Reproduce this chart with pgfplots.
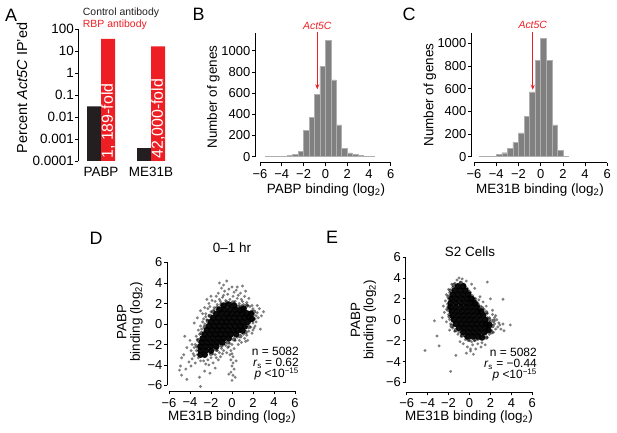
\documentclass[border=0pt]{standalone}
\usepackage{pgfplots}
\pgfplotsset{compat=1.18}
\usepackage{fontspec}
\setmainfont{Liberation Sans}
\usetikzlibrary{arrows.meta}
\definecolor{rbpred}{RGB}{237,30,36}
\definecolor{ctrlblack}{RGB}{35,31,32}
\definecolor{histgray}{RGB}{128,128,128}
\definecolor{histedge}{RGB}{175,175,175}
\newcommand{\fs}[1]{\fontsize{#1}{#1}\selectfont}
\pgfdeclareplotmark{dot}{\pgfpathcircle{\pgfpointorigin}{\pgfplotmarksize}\pgfusepathqfill}
\tikzset{axln/.style={black, line width=0.8bp}}
\pgfplotsset{
  panel/.style={
    scale only axis,
    axis line style={draw=none},
    tick align=outside,
    tick pos=left,
    major tick length=3bp,
    tick style={black, line width=0.7bp},
    ticklabel style={font=\fs{13}},
    yticklabel style={inner xsep=1.5bp},
    clip=false,
  },
  core/.style={only marks, mark=dot, color=black, mark size=3.3bp, mark options={fill=black, fill opacity=0.95}},
  mid/.style={only marks, mark=dot, color=black, mark size=2.2bp, mark options={fill=black, fill opacity=0.6}},
  fringe/.style={only marks, mark=dot, color=black, mark size=1.6bp, mark options={fill=black, fill opacity=0.5}},
}
\begin{document}
\begin{tikzpicture}[x=1bp,y=1bp]
\useasboundingbox (0,0) rectangle (617,433);

% ---------------- Panel A ----------------
\begin{axis}[panel,
  at={(78bp,272bp)}, anchor=south west,
  width=96bp, height=132bp,
  xmin=-0.46, xmax=1.46,
  ymode=log, ymin=1e-4, ymax=100, log origin=infty,
  ytick={1e-4,1e-3,1e-2,1e-1,1,10,100},
  yticklabels={0.0001,0.001,0.01,0.1,1,10,100},
  yminorticks=false,
  ticklabel style={font=\fs{13.5}},
  yticklabel style={inner xsep=1bp},
  xtick={0,1}, xticklabels={PABP,ME31B},
  major x tick style={draw=none},
  ybar=0pt, bar width=14bp,
]
\addplot[fill=ctrlblack, draw=none] coordinates {(0,0.03) (1,0.00038)};
\addplot[fill=rbpred, draw=none] coordinates {(0,35.7) (1,16)};
\draw[axln] (rel axis cs:0,0) -- (rel axis cs:0,1);
\node[rotate=90, anchor=west, text=white, font=\fs{16}, inner sep=0pt] at (axis cs:0.14,1.25e-4) {1, 189-fold};
\node[rotate=90, anchor=west, text=white, font=\fs{16}, inner sep=0pt] at (axis cs:1.14,1.25e-4) {42,000-fold};
\end{axis}

% ---------------- Panel B ----------------
\begin{axis}[panel,
  at={(255bp,270.3bp)}, anchor=south west,
  width=135.7bp, height=129.4bp,
  xmin=-6.46, xmax=6, ymin=-56.6, ymax=1164,
  xtick={-6,-4,...,6}, xticklabels={−6,−4,−2,0,2,4,6},
  ytick={0,200,...,1000}, yticklabels={0,200,400,600,800,1000},
]
\addplot[ybar interval, fill=histgray, draw=histedge, line width=0.4bp] coordinates {
(-5.5,3) (-5.0,3) (-4.5,4) (-4.0,5) (-3.5,12) (-3.0,25) (-2.5,50) (-2.0,250)
(-1.5,370) (-1.0,590) (-0.5,850) (0.0,1100) (0.5,725) (1.0,300) (1.5,80)
(2.0,35) (2.5,20) (3.0,10) (3.5,5) (4.0,3) (4.5,3)};
\draw[axln] (axis cs:-6,-56.6) -- (axis cs:6,-56.6);
\draw[axln] (axis cs:-6.46,0) -- (axis cs:-6.46,1164);
\draw[-{Stealth[length=5bp,width=4bp]}, rbpred, line width=0.8bp] (axis cs:-0.74,1180) -- (axis cs:-0.74,636);
\node[text=rbpred, font=\fs{10.5}\itshape] at (axis cs:-0.74,1233) {Act5C};
\end{axis}

% ---------------- Panel C ----------------
\begin{axis}[panel,
  at={(471bp,270.3bp)}, anchor=south west,
  width=136.3bp, height=129.4bp,
  xmin=-6.27, xmax=6, ymin=-53, ymax=1088,
  xtick={-6,-4,...,6}, xticklabels={−6,−4,−2,0,2,4,6},
  ytick={0,200,...,1000}, yticklabels={0,200,400,600,800,1000},
]
\addplot[ybar interval, fill=histgray, draw=histedge, line width=0.4bp] coordinates {
(-5.5,3) (-5.0,3) (-4.5,3) (-4.0,18) (-3.5,35) (-3.0,72) (-2.5,125) (-2.0,210)
(-1.5,358) (-1.0,572) (-0.5,848) (0.0,1042) (0.5,848) (1.0,280) (1.5,55)
(2.0,5) (2.5,5)};
\draw[axln] (axis cs:-6,-53) -- (axis cs:6,-53);
\draw[axln] (axis cs:-6.27,0) -- (axis cs:-6.27,1088);
\draw[-{Stealth[length=5bp,width=4bp]}, rbpred, line width=0.8bp] (axis cs:-0.71,1102) -- (axis cs:-0.71,590);
\node[text=rbpred, font=\fs{10.5}\itshape] at (axis cs:-0.71,1161) {Act5C};
\end{axis}

% ---------------- Panel D ----------------
\begin{axis}[panel,
  at={(167bp,41.5bp)}, anchor=south west,
  width=128bp, height=129bp,
  xmin=-6.19, xmax=6, ymin=-6.585, ymax=6,
  xtick={-6,-4,...,6}, xticklabels={−6,−4,−2,0,2,4,6},
  ytick={-6,-4,...,6}, yticklabels={−6,−4,−2,0,2,4,6},
]
\addplot[core] coordinates {
(-0.8,1.8) (-0.3,1.9) (0.2,1.8)
(-1.2,1.4) (-0.7,1.45) (-0.2,1.4) (0.3,1.4) (0.8,1.35) (1.1,1.5)
(-1.5,1.0) (-1.0,1.05) (-0.5,1.0) (0,1.0) (0.5,1.0) (1.0,1.0) (1.4,1.05) (1.8,1.0)
(-1.8,0.6) (-1.3,0.6) (-0.8,0.6) (-0.3,0.6) (0.2,0.6) (0.7,0.6) (1.2,0.6) (1.6,0.65) (1.9,0.5)
(-2.0,0.2) (-1.5,0.2) (-1.0,0.2) (-0.5,0.2) (0,0.2) (0.5,0.2) (1.0,0.2) (1.5,0.2)
(-2.2,-0.2) (-1.7,-0.2) (-1.2,-0.2) (-0.7,-0.2) (-0.2,-0.2) (0.3,-0.2) (0.8,-0.2) (1.2,-0.25)
(-2.4,-0.6) (-1.9,-0.6) (-1.4,-0.6) (-0.9,-0.6) (-0.4,-0.6) (0.1,-0.6) (0.6,-0.6) (1.0,-0.65)
(-2.6,-1.0) (-2.1,-1.0) (-1.6,-1.0) (-1.1,-1.0) (-0.6,-1.0) (-0.1,-1.0) (0.4,-1.0)
(-2.8,-1.4) (-2.3,-1.4) (-1.8,-1.4) (-1.3,-1.4) (-0.8,-1.4) (-0.3,-1.4)
(-2.9,-1.8) (-2.4,-1.8) (-1.9,-1.8) (-1.4,-1.8) (-0.9,-1.8)
(-3.0,-2.2) (-2.5,-2.2) (-2.0,-2.2) (-1.5,-2.2)
(-3.0,-2.6) (-2.5,-2.6) (-2.0,-2.6)
(-3.0,-3.0) (-2.6,-3.0)};
\addplot[mid] coordinates {
(-1.0,1.9) (0.6,1.7) (1.2,1.5) (1.8,1.1) (1.9,0.4) (1.6,-0.3) (1.3,-0.8) (0.8,-1.2)
(0.2,-1.5) (-0.4,-1.8) (-1.0,-2.1) (-1.5,-2.5) (-2.0,-2.9) (-3.3,-2.2) (-3.2,-1.6)
(-2.9,-0.9) (-2.6,-0.3) (-2.3,0.3) (-2.1,0.8) (-1.8,1.2) (-1.4,1.6) (-0.5,2.1) (0.1,2.1) (0.9,1.7)
(2.1,1.2) (1.4,1.8)};
\addplot[fringe] coordinates {
(-1.1,2.2) (-0.6,2.3) (-0.2,2.4) (0.3,2.2) (0.7,2.0) (1.1,1.9) (-1.4,1.9) (-0.9,2.6) (0.1,2.7)
(0.5,2.5) (-0.4,2.9) (0.9,2.4) (1.4,2.1) (-1.7,1.6) (1.7,1.7) (0.2,3.1) (-0.7,3.2) (-1.0,3.5)
(-0.3,3.4) (0.0,3.6) (0.4,3.3) (-1.3,3.0) (1.2,2.7) (-0.5,4.2) (-1.9,2.3) (0.8,3.0) (1.6,2.5)
(1.9,1.3) (2.1,0.9) (2.2,0.5) (2.0,0.1) (1.8,-0.3) (1.6,-0.7) (2.4,1.1) (2.3,0.2) (1.9,1.8)
(2.5,0.6) (1.4,-1.1) (1.2,-1.4) (2.0,-0.6) (1.7,1.0) (2.6,1.5) (2.2,-0.2) (1.5,-1.6) (0.9,-1.8)
(0.6,-2.0) (1.1,-1.0)
(0.3,-1.6) (0.0,-2.0) (-0.4,-2.3) (-0.8,-2.6) (-1.2,-2.8) (-1.6,-3.0) (-2.0,-3.3) (0.5,-1.3)
(-0.2,-1.9) (-0.6,-2.1) (-1.0,-2.4) (-1.4,-2.6) (-1.8,-2.9) (-2.3,-3.5) (-2.7,-3.6) (0.2,-2.4)
(-0.5,-2.8) (-1.1,-3.2) (-0.1,-2.6)
(-3.4,-2.6) (-3.5,-2.0) (-3.3,-1.5) (-3.1,-1.0) (-2.9,-0.5) (-2.6,0.0) (-2.4,0.4) (-2.2,0.8)
(-2.0,1.2) (-1.7,1.4) (-3.7,-2.9) (-3.6,-2.3) (-3.4,-1.2) (-3.0,-0.2) (-2.7,0.5) (-2.5,1.0)
(-2.3,1.5) (-3.2,-3.3) (-3.6,-3.1) (-3.9,-2.6) (-3.8,-3.4) (-3.5,-3.8) (-3.0,-3.6)
(-2.8,1.0) (-3.0,1.3) (-2.6,1.6) (-2.2,2.0) (-3.3,0.6) (-3.6,0.1) (-4.5,-1.2) (-4.0,-1.6)
(-4.3,-2.3) (-4.8,-3.3) (-4.6,-3.0) (-5.0,-4.5) (-4.4,-4.4) (-4.8,-5.0) (-4.3,-5.4) (-3.1,-5.2)
(-3.0,-6.1) (-2.6,-4.6) (-3.9,-4.1) (-2.2,-4.0) (-1.8,-3.8) (-1.3,-3.5) (-1.6,-4.3)
(0.0,-2.9) (0.1,-3.2) (-0.1,-3.5) (0.1,-3.8) (0.0,-4.1) (0.2,-4.4) (-0.1,-4.7) (0.1,-5.0)
(0.3,-5.2) (0.0,-5.5) (-0.3,-4.9) (0.4,-3.6) (-0.2,-3.0)
(2.8,0.8) (3.0,1.2) (2.7,-0.5) (1.0,3.7) (1.3,3.2) (-1.5,2.7) (-2.0,2.7) (-1.2,4.0)
(-2.4,2.4) (-1.6,2.2) (-0.8,2.8) (0.6,2.8) (1.0,2.2) (1.5,1.8) (2.0,1.5) (2.3,0.8) (2.1,-0.4)
(1.9,-0.9) (1.3,-1.7) (0.7,-1.6) (-0.3,-2.2) (-0.9,-2.9) (-1.5,-3.3) (-2.5,-3.9) (-3.3,-3.0)
(-3.8,-2.0) (-3.2,-0.6) (-2.8,0.2) (-2.5,0.7) (-2.1,1.7) (-1.2,2.4) (0.5,3.6) (-0.8,3.8)
(1.8,0.6) (2.4,1.8) (-4.1,-3.7) (-4.9,-4.1) (-2.1,-4.8)};
\draw[axln] (axis cs:-6,-6.585) -- (axis cs:6,-6.585);
\draw[axln] (axis cs:-6.19,-6) -- (axis cs:-6.19,6);
\end{axis}

% ---------------- Panel E ----------------
\begin{axis}[panel,
  at={(405.5bp,40.7bp)}, anchor=south west,
  width=126.8bp, height=135.3bp,
  xmin=-6.11, xmax=6, ymin=-6.94, ymax=6,
  xtick={-6,-4,...,6}, xticklabels={−6,−4,−2,0,2,4,6},
  ytick={-6,-4,...,6}, yticklabels={−6,−4,−2,0,2,4,6},
]
\addplot[core] coordinates {
(-1.1,3.2) (-0.6,3.2)
(-1.4,2.8) (-0.9,2.8) (-0.4,2.8)
(-1.6,2.4) (-1.1,2.4) (-0.6,2.4) (-0.1,2.4)
(-1.7,2.0) (-1.2,2.0) (-0.7,2.0) (-0.2,2.0) (0.2,2.0)
(-1.8,1.6) (-1.3,1.6) (-0.8,1.6) (-0.3,1.6) (0.2,1.6) (0.5,1.6)
(-1.8,1.2) (-1.3,1.2) (-0.8,1.2) (-0.3,1.2) (0.2,1.2) (0.7,1.2)
(-1.7,0.8) (-1.2,0.8) (-0.7,0.8) (-0.2,0.8) (0.3,0.8) (0.8,0.8) (1.1,0.8)
(-1.6,0.4) (-1.1,0.4) (-0.6,0.4) (-0.1,0.4) (0.4,0.4) (0.9,0.4) (1.3,0.4)
(-1.5,0.0) (-1.0,0.0) (-0.5,0.0) (0.0,0.0) (0.5,0.0) (1.0,0.0) (1.5,0.0)
(-1.3,-0.4) (-0.8,-0.4) (-0.3,-0.4) (0.2,-0.4) (0.7,-0.4) (1.2,-0.4) (1.6,-0.4) (1.9,-0.5)
(-1.0,-0.8) (-0.5,-0.8) (0.0,-0.8) (0.5,-0.8) (1.0,-0.8) (1.5,-0.8) (1.8,-1.0)
(-0.6,-1.2) (-0.1,-1.2) (0.4,-1.2) (0.9,-1.2) (1.4,-1.2)
(-0.2,-1.6) (0.3,-1.6) (0.8,-1.6) (1.2,-1.7)};
\addplot[mid] coordinates {
(-1.5,3.3) (-0.8,3.5) (-0.1,2.7) (-1.8,2.8) (0.4,2.0) (0.8,1.4) (1.2,1.1) (1.6,0.7)
(1.9,0.0) (2.2,-0.6) (2.1,-1.2) (1.6,-1.7) (0.5,-1.9) (-0.1,-1.9) (-0.7,-1.5) (-1.3,-1.0)
(-1.7,-0.6) (-1.9,0.3) (-2.0,1.2) (-2.0,2.2) (2.3,-0.1)};
\addplot[fringe] coordinates {
(-1.4,3.5) (-0.9,3.6) (-0.5,3.4) (-1.6,3.1) (-0.2,3.0) (0.1,2.6) (-1.9,2.6) (-1.2,3.8)
(-0.7,3.9) (0.3,2.3) (-0.3,3.7) (0.5,3.0) (-2.0,2.9) (0.2,3.4) (-1.0,4.0)
(-2.0,2.0) (-2.1,1.5) (-2.2,1.0) (-2.0,0.5) (-1.9,0.0) (-1.8,-0.4) (-1.6,-0.8) (-2.3,1.8)
(-2.4,0.7) (-2.2,-0.2) (-1.4,-1.1) (-1.1,-1.4) (-2.5,1.3) (-1.9,-1.0) (-1.86,0.77)
(0.6,2.0) (0.8,1.6) (1.1,1.3) (1.4,1.0) (1.7,0.6) (1.9,0.2) (2.0,-0.2) (2.0,-0.6) (1.8,-1.0)
(1.9,-1.4) (1.0,2.2) (1.3,1.7) (1.6,1.3) (2.2,0.5) (2.4,-0.4) (2.5,-0.9) (2.3,-1.2) (2.7,-0.7)
(2.9,-0.5) (1.7,-1.7) (2.2,0.9) (0.9,1.9) (3.2,-0.4) (3.0,-0.9) (2.6,0.0)
(-0.8,-1.6) (-0.4,-1.9) (0.0,-2.0) (0.5,-2.0) (1.0,-1.8) (1.3,-1.6) (-0.6,-2.3) (0.3,-2.4)
(0.8,-2.3) (1.2,-2.2) (-0.2,-2.6) (0.6,-2.8) (1.5,-2.4) (0.1,-3.0) (-0.9,-2.1)
(-4.25,-2.95) (-3.1,-1.55) (-2.9,-2.5) (-3.35,-0.1) (-1.8,-4.95) (-1.3,-3.4) (0.1,-2.8)
(0.37,-3.3) (1.7,3.6) (2.0,2.0) (3.2,1.95) (3.9,-0.5) (3.3,-1.05) (2.5,0.4)
(-1.3,3.3) (-0.4,3.2) (0.0,2.3) (0.4,1.7) (0.9,1.2) (1.4,0.6) (1.7,0.2) (1.8,-0.6) (1.6,-1.3)
(0.8,-1.9) (0.2,-2.1) (-0.4,-1.6) (-1.0,-1.2) (-1.5,-0.6) (-1.8,0.4) (-2.1,0.9) (-2.2,2.4)
(-1.7,3.4) (2.1,-1.0) (2.4,0.2) (2.8,-0.3) (-2.6,0.2) (1.1,-2.6) (-0.3,-3.2)};
\draw[axln] (axis cs:-6,-6.94) -- (axis cs:6,-6.94);
\draw[axln] (axis cs:-6.11,-6) -- (axis cs:-6.11,6);
\end{axis}

% ---------------- Text ----------------
\node[font=\fs{18}] at (11,418) {A};
\node[font=\fs{18}] at (198.5,419) {B};
\node[font=\fs{18}] at (409,419) {C};
\node[font=\fs{18}] at (96,195) {D};
\node[font=\fs{18}] at (332,196) {E};

\node[anchor=base west, font=\fs{10.5}, text=ctrlblack, inner sep=0pt] at (82.7,417.3) {Control antibody};
\node[anchor=base west, font=\fs{10.5}, text=rbpred, inner sep=0pt] at (82.7,405.3) {RBP antibody};
\node[rotate=90, font=\fs{14.5}] at (22,345) {Percent \textit{Act5C} IP'ed};

\node[rotate=90, font=\fs{13.5}] at (213.5,336) {Number of genes};
\node[font=\fs{13.5}] at (326,243) {PABP binding (log\textsubscript{2})};
\node[rotate=90, font=\fs{13.5}] at (430,338) {Number of genes};
\node[font=\fs{13.5}] at (540,243) {ME31B binding (log\textsubscript{2})};

\node[font=\fs{13.5}] at (232,185) {0–1 hr};
\node[font=\fs{13.5}] at (470,181) {S2 Cells};
\node[rotate=90, align=center, font=\fs{13.5}] at (129.8,111) {PABP\\binding (log\textsubscript{2})};
\node[rotate=90, align=center, font=\fs{13.5}] at (363.5,113) {PABP\\binding (log\textsubscript{2})};
\node[font=\fs{13.5}] at (232,16) {ME31B binding (log\textsubscript{2})};
\node[font=\fs{13.5}] at (469,16) {ME31B binding (log\textsubscript{2})};

\node[anchor=base east, font=\fs{12}, inner sep=0pt] at (299,77) {n = 5082};
\node[anchor=base east, font=\fs{12}, inner sep=0pt] at (299,66) {\textit{r}\textsubscript{s} = 0.62};
\node[anchor=base east, font=\fs{12}, inner sep=0pt] at (299,55) {\textit{p} <10\textsuperscript{−15}};
\node[anchor=base east, font=\fs{12}, inner sep=0pt] at (537,76.5) {n = 5082};
\node[anchor=base east, font=\fs{12}, inner sep=0pt] at (537,65.5) {\textit{r}\textsubscript{s} = −0.44};
\node[anchor=base east, font=\fs{12}, inner sep=0pt] at (537,54.5) {\textit{p} <10\textsuperscript{−15}};
\end{tikzpicture}
\end{document}
